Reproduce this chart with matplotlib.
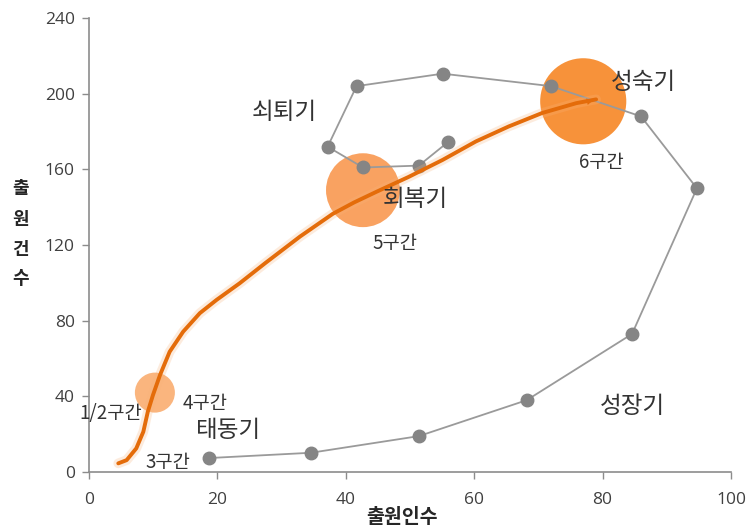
import matplotlib
matplotlib.use("Agg")
import matplotlib.pyplot as plt

plt.rcParams['font.family'] = ['Noto Sans CJK KR', 'DejaVu Sans']

# Gray cycle path (출원인수, 출원건수)
cycle_x = [18.7, 34.6, 51.4, 68.2, 84.6, 94.7, 86.0, 72.0, 55.1, 41.7, 37.2, 42.7, 51.4, 56.0]
cycle_y = [7.4, 10.2, 19.0, 38.0, 73.0, 150.0, 188.0, 204.0, 210.6, 204.0, 172.0, 161.0, 162.0, 174.6]

# Orange trend curve
trend_x = [4.6, 5.9, 7.4, 8.5, 9.2, 10.0, 11.1, 12.6, 14.7, 17.3, 19.9, 23.5, 27.5, 32.9, 38.0,
           41.3, 44.7, 49.8, 55.1, 60.3, 65.4, 70.6, 75.9, 79.0]
trend_y = [4.6, 6.3, 12.5, 21.3, 31.9, 40.7, 51.3, 63.6, 74.2, 84.0, 91.0, 99.8, 110.5, 124.5, 136.5,
           142.5, 148.0, 156.0, 165.0, 174.8, 182.7, 189.8, 195.0, 197.0]

# Bubbles (구간)
bubble_x = [10.3, 42.7, 77.0]
bubble_y = [42.0, 149.0, 196.0]
bubble_s = [830, 2830, 3844]
bubble_c = ['#FAB57E', '#F9A261', '#F7923A']

# Text labels
label_text = ['쇠퇴기', '성숙기', '회복기', '5구간', '6구간', '1/2구간', '4구간', '태동기', '3구간', '성장기']
label_x = [30.5, 86.3, 50.8, 47.7, 79.8, 3.5, 18.2, 21.8, 12.3, 84.7]
label_y = [190, 206, 144, 121, 163.5, 31, 36, 22.2, 5.3, 34.4]
label_size = [17, 17, 17, 13.5, 13.5, 13.5, 13.5, 17, 13.5, 17]

xticks = [0, 20, 40, 60, 80, 100]
yticks = [0, 40, 80, 120, 160, 200, 240]
ylabel_chars = ['출', '원', '건', '수']

fig = plt.figure(figsize=(7.52, 5.31), dpi=100)
ax = fig.add_axes([0.118, 0.111, 0.854, 0.855])

ax.scatter(bubble_x, bubble_y, s=bubble_s, c=bubble_c, edgecolors='none', zorder=1)
ax.plot(cycle_x, cycle_y, color='#9A9A9A', lw=1.3, marker='o', markersize=9,
        markerfacecolor='#858585', markeredgecolor='#858585', zorder=2)
ax.plot(trend_x, trend_y, color='#F7B27A', lw=7, alpha=0.25, solid_capstyle='round', zorder=2.5)
ax.plot(trend_x, trend_y, color='#E46C0A', lw=2.8, solid_capstyle='round',
        solid_joinstyle='round', zorder=3)
ax.annotate('', xy=(trend_x[-1], trend_y[-1]), xytext=(trend_x[-3], trend_y[-3]),
            arrowprops=dict(arrowstyle='-|>', color='#E46C0A', lw=0, mutation_scale=12), zorder=3)

for t, x, y, s in zip(label_text, label_x, label_y, label_size):
    ax.text(x, y, t, fontsize=s, color='#333333', ha='center', va='center', zorder=4)

ax.set_xlim(0, 100)
ax.set_ylim(0, 240)
ax.set_xticks(xticks)
ax.set_yticks(yticks)
for sp in ['top', 'right']:
    ax.spines[sp].set_visible(False)
for sp in ['left', 'bottom']:
    ax.spines[sp].set_color('#8C8C8C')
    ax.spines[sp].set_linewidth(1.2)
ax.tick_params(axis='both', colors='#8C8C8C', labelcolor='#404040', length=5, width=1)
ax.tick_params(axis='x', pad=9)
ax.tick_params(axis='y', pad=5)
for lab in ax.get_xticklabels() + ax.get_yticklabels():
    lab.set_fontfamily('Open Sans')
    lab.set_fontsize(12.5)

fig.text(0.535, 0.026, '출원인수', fontsize=14, fontweight='bold', color='#262626',
         ha='center', va='center')
for i, ch in enumerate(ylabel_chars):
    fig.text(0.027, 1 - (189 + 30 * i) / 531, ch, fontsize=13, fontweight='bold',
             color='#262626', ha='center', va='center')

fig.savefig('out.png', dpi=100)
